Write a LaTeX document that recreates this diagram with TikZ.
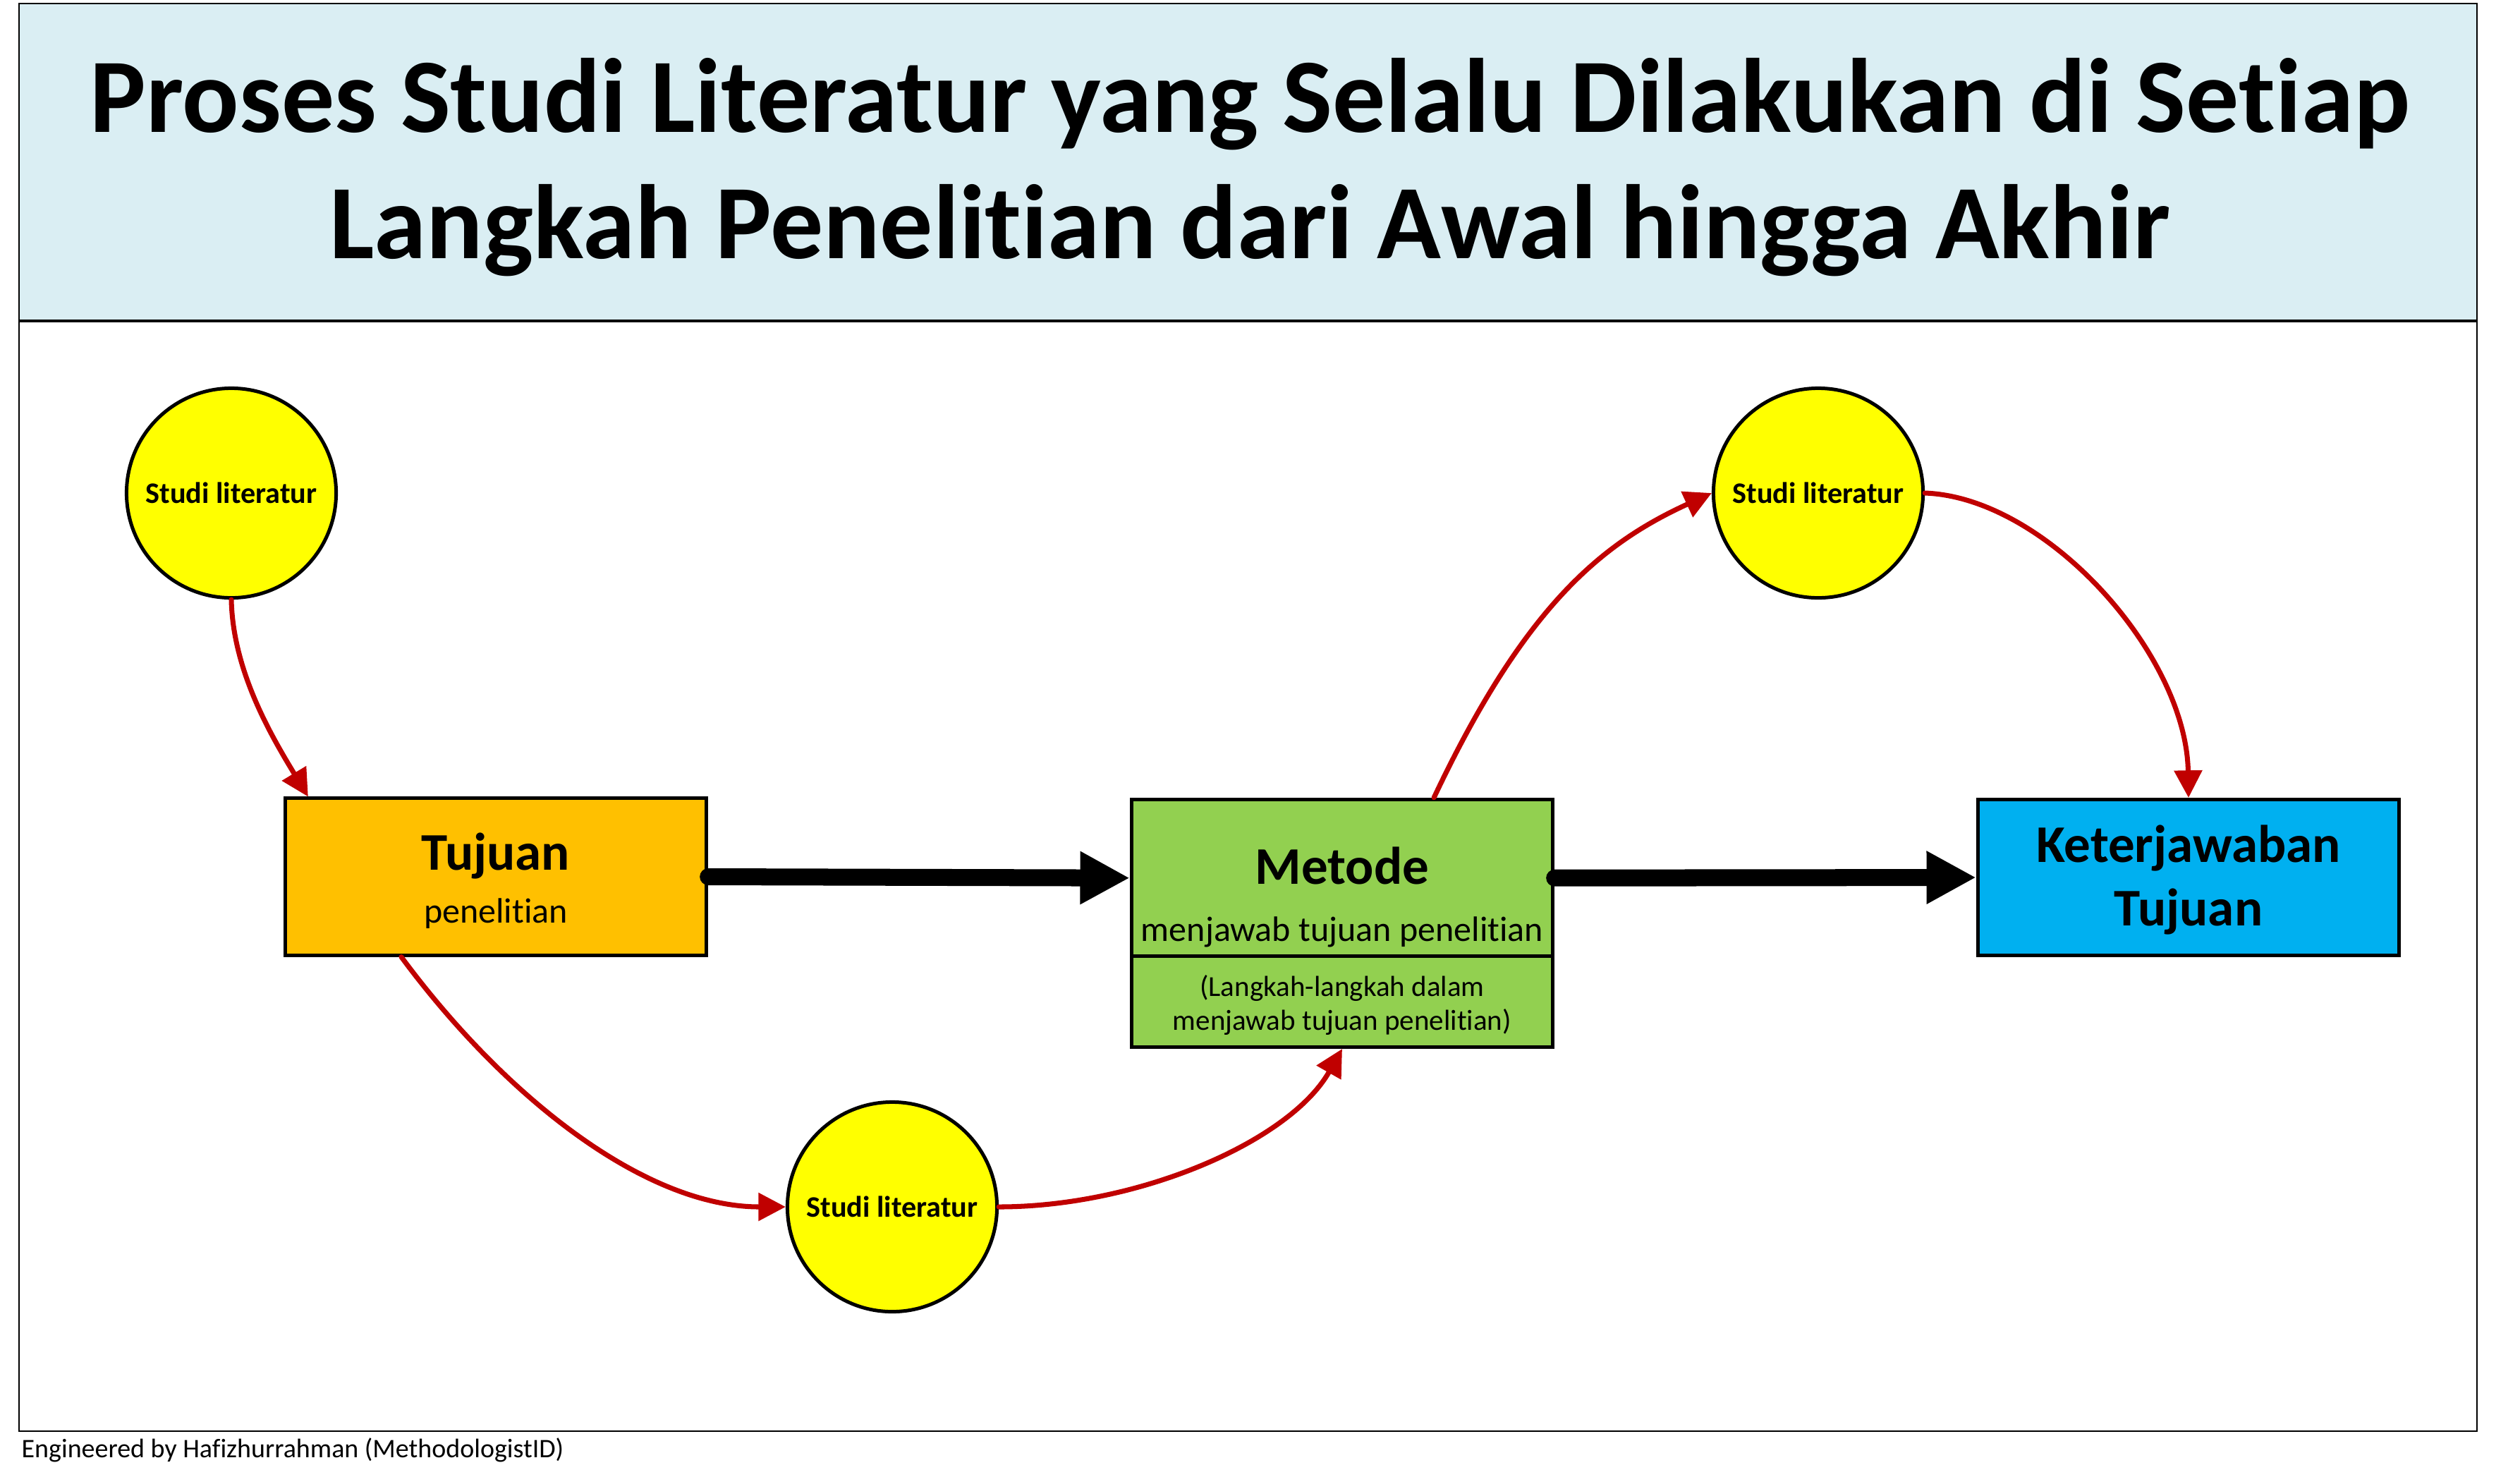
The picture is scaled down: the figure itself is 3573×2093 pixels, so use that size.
\documentclass[tikz,border=0pt]{standalone}
\usepackage{fontspec}
\setmainfont{Carlito}[Ligatures={NoCommon}]
\usetikzlibrary{arrows.meta,calc}
\definecolor{titlefill}{HTML}{DAEEF3}
\definecolor{orangefill}{HTML}{FFC000}
\definecolor{greenfill}{HTML}{92D050}
\definecolor{bluefill}{HTML}{00B0F0}
\definecolor{yellowfill}{HTML}{FFFF00}
\definecolor{darkred}{HTML}{C00000}
\newcommand{\fsz}[1]{\fontsize{#1}{1.2\dimexpr#1\relax}\selectfont}
\begin{document}
\begin{tikzpicture}[x=0.01cm,y=-0.01cm,
  boxnode/.style={draw=black,line width=1.42pt,rectangle,minimum width=5.97cm,inner sep=0pt},
  circnode/.style={draw=black,line width=1.42pt,circle,fill=yellowfill,minimum size=2.97cm,inner sep=0pt},
  redarrow/.style={draw=darkred,line width=2pt,line cap=round,-{Triangle[length=11pt,width=11pt]}},
  blackarrow/.style={draw=black,line width=6.83pt,line cap=round,-{Triangle[length=20pt,width=20pt]}},
  bigbold/.style={anchor=base,font=\bfseries\fsz{21.34pt}},
  midtext/.style={anchor=base,font=\fsz{14.23pt}},
  smalltext/.style={anchor=base,font=\fsz{11.67pt}},
  circtext/.style={anchor=base,font=\bfseries\fsz{12pt}},
  titletext/.style={anchor=base,font=\bfseries\fsz{42.6pt}}]
\useasboundingbox (0,0) rectangle (3573,2093);
% frame
\fill[titlefill] (27,5) rectangle (3512,455);
\draw[line width=0.75pt] (27,5) rectangle (3512,2029);
\draw[line width=1.2pt] (27,455) -- (3512,455);
\node[titletext] (title1) at (1772,187) {Proses Studi Literatur yang Selalu Dilakukan di Setiap};
\node[titletext] (title2) at (1772,366) {Langkah Penelitian dari Awal hingga Akhir};
% boxes
\node[boxnode,fill=orangefill,minimum height=2.22cm] (tujuan) at (703,1243) {};
\node[boxnode,fill=greenfill,minimum height=2.225cm] (metodeTop) at (1903,1244.7) {};
\node[boxnode,fill=greenfill,minimum height=1.285cm] (metodeBot) at (1903,1420.2) {};
\node[boxnode,fill=bluefill,minimum height=2.21cm] (ket) at (3103,1244) {};
% circles
\node[circnode] (c1) at (328,699) {};
\node[circnode] (c2) at (2578,699) {};
\node[circnode] (c3) at (1265,1711) {};
% texts
\node[bigbold] (tTujuan) at (703,1233) {Tujuan};
\node[midtext] (tPenelitian) at (703,1308) {penelitian};
\node[bigbold] (tMetode) at (1903,1253) {Metode};
\node[midtext] (tMenjawab) at (1903,1334) {menjawab tujuan penelitian};
\node[smalltext] (tLangkah1) at (1903,1412) {(Langkah-langkah dalam};
\node[smalltext] (tLangkah2) at (1903,1460) {menjawab tujuan penelitian)};
\node[bigbold] (tKet1) at (3103,1222) {Keterjawaban};
\node[bigbold] (tKet2) at (3103,1312) {Tujuan};
\node[circtext] (s1) at (328,713) {Studi literatur};
\node[circtext] (s2) at (2578,713) {Studi literatur};
\node[circtext] (s3) at (1265,1725) {Studi literatur};
\node[anchor=base west,inner sep=0pt,font=\fsz{10.8pt}] (footer) at (30,2066) {Engineered by Hafizhurrahman (MethodologistID)};
% black arrows
\draw[blackarrow] (tujuan.east) -- (metodeTop.west);
\draw[blackarrow] (metodeTop.east) -- (ket.west);
% red arrows
\draw[redarrow] (c1.south) .. controls +(2,101) and +(-52,-86) .. ([xshift=0.35cm]tujuan.north west);
\draw[redarrow] ([xshift=1.67cm]tujuan.south west) .. controls +(148,200) and +(-199,0) .. (c3.west);
\draw[redarrow] (c3.east) .. controls +(197,0) and +(-75,132) .. (metodeBot.south);
\draw[redarrow] ([xshift=1.3cm]metodeTop.north) .. controls +(129,-273) and +(-155,71) .. (c2.west);
\draw[redarrow] (c2.east) .. controls +(172,6) and +(-3,-203) .. (ket.north);
\end{tikzpicture}
\end{document}
